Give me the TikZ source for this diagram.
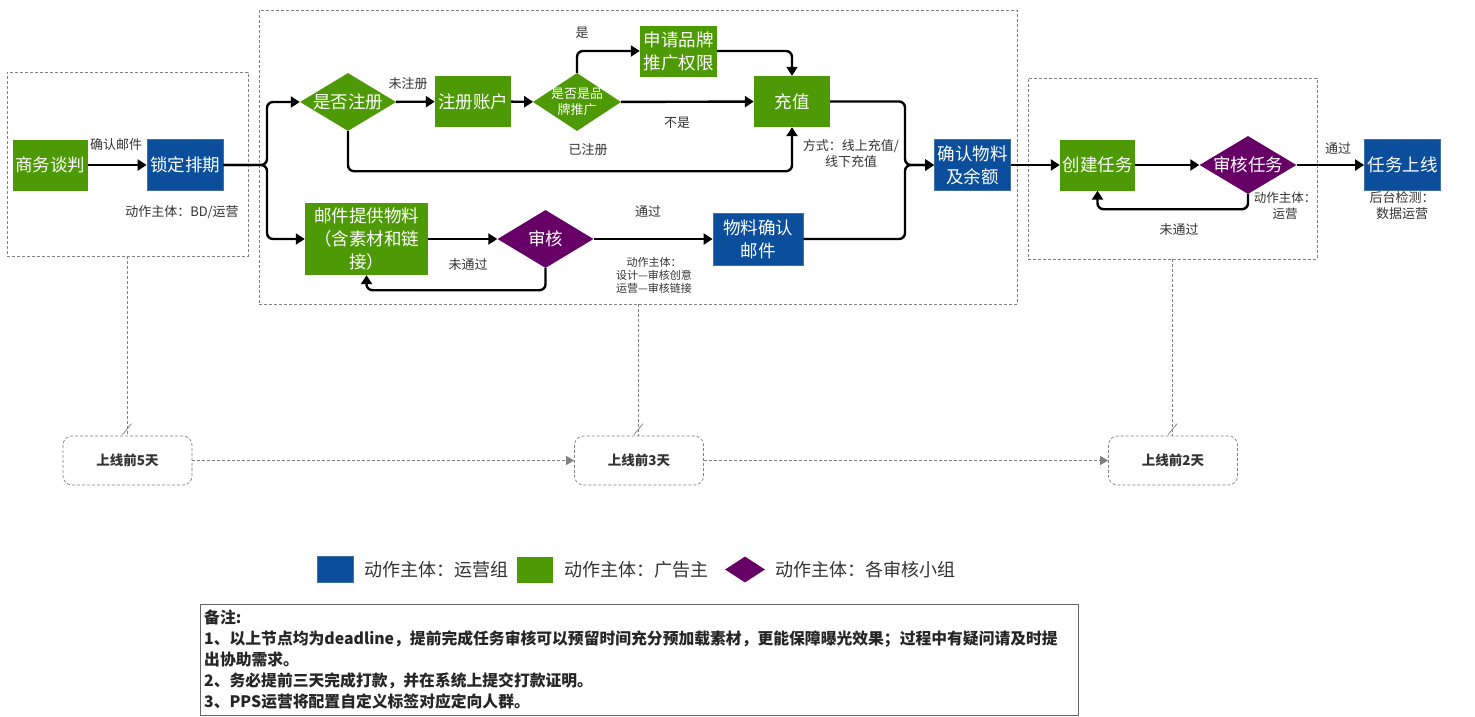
\documentclass[tikz,border=0pt]{standalone}
\usepackage{fontspec}
\setmainfont{Noto Sans CJK SC}
\usetikzlibrary{arrows.meta,shapes.geometric,calc}
\definecolor{opblue}{HTML}{0B4F9C}
\definecolor{opedge}{HTML}{41719C}
\definecolor{adgreen}{HTML}{4E9A06}
\definecolor{audpurple}{HTML}{660066}
\definecolor{txtgray}{HTML}{333333}
\begin{document}
\begin{tikzpicture}[x=1pt, y=-1pt,
    box/.style={minimum width=76pt, minimum height=51pt, inner sep=1pt, align=center, text=white, font=\fontsize{17.5}{23}\selectfont},
    bluebox/.style={box, fill=opblue, draw=opedge, line width=0.8pt},
    greenbox/.style={box, fill=adgreen},
    diam/.style={diamond, aspect=1.7, inner sep=-4pt, minimum width=96pt, minimum height=58pt, align=center, text=white, font=\fontsize{17.5}{23}\selectfont},
    greendiam/.style={diam, fill=adgreen},
    purpdiam/.style={diam, fill=audpurple},
    lbl/.style={text=txtgray, inner sep=0pt, align=center, font=\fontsize{13}{16}\selectfont},
    arr/.style={line width=2.4pt, rounded corners=6pt, -{Triangle[length=9pt, width=11pt]}},
    grp/.style={draw=gray, dash pattern=on 3pt off 2pt, line width=0.7pt},
    daybox/.style={grp, rounded corners=9pt, minimum width=129pt, minimum height=49pt, text=txtgray, font=\bfseries\fontsize{13.5}{16}\selectfont},
    dayarr/.style={grp, -{Triangle[length=8pt, width=9pt]}},
    legtxt/.style={anchor=west, inner sep=0pt, text=txtgray, font=\fontsize{18}{20}\selectfont}
  ]
  \fill[white] (0,0) rectangle (1475,716);
  \useasboundingbox (0,0) rectangle (1475,716);

  % dashed groups
  \node[grp, minimum width=241pt, minimum height=184pt] at (127.5,164)  (grpA) {};
  \node[grp, minimum width=758pt, minimum height=294pt] at (638,157)    (grpB) {};
  \node[grp, minimum width=289pt, minimum height=181pt] at (1172.5,168.5) (grpC) {};

  % step nodes
  \node[greenbox, minimum width=75pt] at (50.5,165) (biz)  {商务谈判};
  \node[bluebox]                      at (185,165)  (lock) {锁定排期};
  \node[greendiam]                    at (348,102)  (reg)  {是否注册};
  \node[greenbox]                     at (473,101.5) (acc) {注册账户};
  \node[greendiam, minimum width=88pt, font=\fontsize{13}{16}\selectfont] at (577,102) (brand) {是否是品\\牌推广};
  \node[greenbox, minimum width=77pt] at (678.5,51) (apply) {申请品牌\\推广权限};
  \node[greenbox]                     at (792,101.5) (charge) {充值};
  \node[bluebox]                      at (972.5,165) (confirm) {确认物料\\及余额};
  \node[greenbox, minimum width=123pt, minimum height=72pt] at (366.5,239) (mail) {邮件提供物料\\（含素材和链\\接）};
  \node[purpdiam]                     at (545.5,239) (audit) {审核};
  \node[bluebox, minimum width=90pt, minimum height=52pt] at (758,239) (matmail) {物料确认\\邮件};
  \node[greenbox, minimum width=75pt] at (1097.5,165) (create) {创建任务};
  \node[purpdiam, minimum width=97pt] at (1248,165) (taudit) {审核任务};
  \node[bluebox]                      at (1402.5,165) (online) {任务上线};

  \coordinate (split) at (267,165);
  \coordinate (merge) at (905,165);

  % connectors
  \draw[arr] (biz) -- (lock);
  \draw[arr] (lock.east) -- (split) |- (reg.west);
  \draw[arr] (lock.east) -- (split) |- (mail.west);
  \draw[arr] (reg) -- (acc);
  \draw[arr] (acc) -- (brand);
  \draw[arr] (brand.north) |- (apply.west);
  \draw[arr] (apply.east) -| (charge.north);
  \draw[arr] (brand) -- (charge);
  \draw[arr] (reg.south) -- ++(0,40) -| (charge.south);
  \draw[arr] (charge.east) -| (merge) -- (confirm.west);
  \draw[arr] (matmail.east) -| (merge) -- (confirm.west);
  \draw[arr] (mail) -- (audit);
  \draw[arr] (audit.south) -- ++(0,22) -| (mail.south);
  \draw[arr] (audit) -- (matmail);
  \draw[arr] (confirm) -- (create);
  \draw[arr] (create) -- (taudit);
  \draw[arr] (taudit.south) -- ++(0,15) -| (create.south);
  \draw[arr] (taudit) -- (online);

  % labels
  \node[lbl] at (116,145)  (l1)  {确认邮件};
  \node[lbl] at (182,212)  (l2)  {动作主体：BD/运营};
  \node[lbl] at (408,84)   (l3)  {未注册};
  \node[lbl] at (582,33)   (l4)  {是};
  \node[lbl] at (677,123)  (l5)  {不是};
  \node[lbl] at (588,150)  (l6)  {已注册};
  \node[lbl] at (851,154)  (l7)  {方式：线上充值/\\线下充值};
  \node[lbl] at (468,265)  (l8)  {未通过};
  \node[lbl] at (648,212)  (l9)  {通过};
  \node[lbl, font=\fontsize{11}{13}\selectfont] at (654,275) (l10) {动作主体：\\设计—审核创意\\运营—审核链接};
  \node[lbl] at (1179,230) (l11) {未通过};
  \node[lbl, font=\fontsize{12.5}{16}\selectfont] at (1285,206) (l12) {动作主体：\\运营};
  \node[lbl] at (1338,149) (l13) {通过};
  \node[lbl] at (1402,206) (l14) {后台检测：\\数据运营};

  % timeline
  \node[daybox] at (127.5,460.5) (d5) {上线前5天};
  \node[daybox] at (639,460.5)   (d3) {上线前3天};
  \node[daybox] at (1173,460.5)  (d2) {上线前2天};
  \draw[dayarr] (d5) -- (d3);
  \draw[dayarr] (d3) -- (d2);
  \draw[grp] (grpA.south) -- (d5.north);
  \draw[grp] (grpB.south) -- (grpB.south |- d3.north);
  \draw[grp] (grpC.south) -- (grpC.south |- d2.north);
  \foreach \d in {d5,d3,d2}
    \draw[gray, line width=0.7pt] ($(\d.north)+(-5,-1)$) -- ++(9,-11);

  % legend
  \node[fill=opblue, draw=opedge, minimum width=36pt, minimum height=26pt] at (335.5,569.5) (lgblue) {};
  \node[legtxt] at (364,570) (lgbluetxt) {动作主体：运营组};
  \node[fill=adgreen, minimum width=36pt, minimum height=26pt] at (535,569.5) (lggreen) {};
  \node[legtxt] at (564,570) (lggreentxt) {动作主体：广告主};
  \node[diamond, fill=audpurple, inner sep=0pt, minimum width=40pt, minimum height=26pt] at (745,569.5) (lgpurp) {};
  \node[legtxt] at (775,570) (lgpurptxt) {动作主体：各审核小组};

  % notes
  \node[draw=gray!80!black, anchor=north west, minimum width=878pt, minimum height=111pt,
        text width=870pt, align=left, inner sep=3pt, text=black!85,
        font=\bfseries\fontsize{15.8}{21}\selectfont] at (200,604) (notes)
    {备注:\\1、以上节点均为deadline，提前完成任务审核可以预留时间充分预加载素材，更能保障曝光效果；过程中有疑问请及时提\\出协助需求。\\2、务必提前三天完成打款，并在系统上提交打款证明。\\3、PPS运营将配置自定义标签对应定向人群。};
\end{tikzpicture}
\end{document}
